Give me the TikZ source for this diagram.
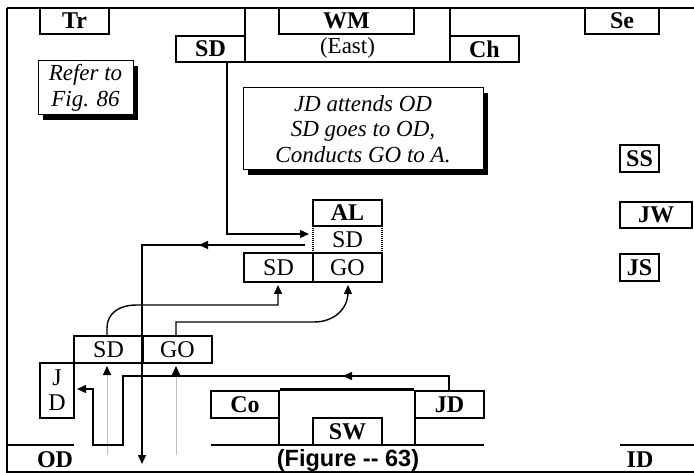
\documentclass[tikz,border=0pt]{standalone}
\usepackage{fontspec}
\setmainfont{Liberation Serif}
\newfontfamily\arialfont{Liberation Sans}
\usetikzlibrary{arrows.meta}
\begin{document}
\begin{tikzpicture}[x=1pt,y=-1pt,
  bx/.style={draw, line width=2.7pt, inner sep=0pt, font=\bfseries\fontsize{24}{24}\selectfont},
  rbx/.style={bx, font=\fontsize{24}{24}\selectfont},
  lbl/.style={inner sep=0pt, font=\bfseries\fontsize{24}{24}\selectfont},
  note/.style={draw, line width=1pt, fill=white, inner sep=0pt, align=center,
    font=\itshape\fontsize{23}{25.5}\selectfont},
  frame/.style={line width=2.7pt},
  conn/.style={line width=1.4pt},
  tip/.style={-{Triangle[length=9pt,width=8pt]}},
  gline/.style={line width=0.8pt, draw=black!25, -{Triangle[length=9pt,width=8pt,color=black]}}
]
\useasboundingbox (0,0) rectangle (694,473);
% frame
\draw[frame] (7,8) -- (694,8);
\draw[frame] (7,8) -- (7,472) -- (694,472);
% top structure
\node[bx, minimum width=69pt, minimum height=26pt] (tr) at (74.5,21) {Tr};
\node[bx, minimum width=135pt, minimum height=26pt] (wm) at (346.5,21) {WM};
\node[bx, minimum width=74pt, minimum height=26pt] (se) at (622,21) {Se};
\node[bx, minimum width=69pt, minimum height=26pt] (sdt) at (210.5,49) {SD};
\node[bx, minimum width=69pt, minimum height=26pt] (ch) at (484.5,49) {Ch};
\draw[frame] (245,8) -- (245,62) -- (450,62) -- (450,8);
\node[inner sep=0pt, font=\fontsize{23}{23}\selectfont] (east) at (347.5,48) {(East)};
% notes with shadows
\fill (43,66) rectangle (138,120);
\node[note, minimum width=95pt, minimum height=54pt] (refer) at (85.5,88) {Refer to\\Fig. 86};
\fill (248,93) rectangle (488,175);
\node[note, minimum width=240pt, minimum height=82pt] (jdatt) at (363,129) {JD attends OD\\SD goes to OD,\\Conducts GO to A.};
% right column
\node[bx, minimum width=39pt, minimum height=27pt] (ss) at (639.5,158.5) {SS};
\node[bx, minimum width=72pt, minimum height=26pt] (jw) at (656,215) {JW};
\node[bx, minimum width=39pt, minimum height=27pt] (js) at (639.5,267.5) {JS};
% altar group
\node[bx, minimum width=69pt, minimum height=26pt] (al) at (347.5,213) {AL};
\node[inner sep=0pt, font=\fontsize{24}{24}\selectfont] (sdm) at (347.5,239.5) {SD};
\draw[line width=1.5pt, dash pattern=on 1pt off 1pt] (313,226) -- (313,253);
\draw[line width=1.5pt, dash pattern=on 1pt off 1pt] (382,226) -- (382,253);
\node[rbx, minimum width=69pt, minimum height=29pt] (sda) at (278.5,267.5) {SD};
\node[rbx, minimum width=69pt, minimum height=29pt] (goa) at (347.5,267.5) {GO};
% lower left group
\node[rbx, minimum width=69pt, minimum height=27pt] (sdl) at (108.5,349.5) {SD};
\node[rbx, minimum width=69pt, minimum height=27pt] (gol) at (177.5,349.5) {GO};
\node[rbx, minimum width=34pt, minimum height=55pt, align=center, font=\fontsize{24}{25}\selectfont] (jdl) at (57,390.5) {J\\D};
% bottom group
\node[bx, minimum width=68pt, minimum height=27pt] (co) at (245,404.5) {Co};
\node[bx, minimum width=69pt, minimum height=27pt] (sw) at (347.5,431.5) {SW};
\node[bx, minimum width=69pt, minimum height=27pt] (jdr) at (449.5,404.5) {JD};
\draw[frame] (co.north east) -- (jdr.north west);
\draw[frame] (279,418) -- (279,445);
\draw[frame] (415,418) -- (415,445);
\draw[frame] (7,445) -- (74,445);
\draw[frame] (211,445) -- (484,445);
\draw[frame] (620,445) -- (694,445);
% bottom labels
\node[lbl] (od) at (55,460) {OD};
\node[inner sep=0pt, font=\arialfont\bfseries\fontsize{23.5}{23.5}\selectfont] (fig) at (348,460) {(Figure -- 63)};
\node[lbl] (id) at (640,460) {ID};
% connectors
\coordinate (a1) at (227,62);
\coordinate (a2) at (227,234);
\coordinate (a3) at (309,234);
\draw[conn, tip] (a1) -- (a2) -- (a3);
\coordinate (b1) at (305,245);
\coordinate (b2) at (199,245);
\coordinate (b3) at (142,245);
\coordinate (b4) at (142,464);
\draw[conn, tip] (b1) -- (b2);
\draw[conn, tip] (205,245) -- (b3) -- (b4);
% curves from lower SD/GO to upper SD/GO
\coordinate (c1) at (107,336);
\coordinate (c2) at (278,305);
\coordinate (c3) at (278,285);
\draw[conn, tip] (c1) -- (107,328) .. controls (107,314) and (118,305) .. (137,305) -- (c2) -- (c3);
\coordinate (d1) at (176,336);
\coordinate (d2) at (348,285);
\draw[conn, tip] (d1) -- (176,322) -- (314,322) .. controls (333,322) and (348,310) .. (348,292) -- (d2);
% gray up arrows
\draw[gline] (107,455) -- (107,366);
\draw[gline] (176,455) -- (176,366);
% JD path
\coordinate (e1) at (449,391);
\coordinate (e2) at (449,376);
\coordinate (e3) at (343,376);
\draw[conn, tip] (e1) -- (e2) -- (e3);
\draw[conn, tip] (350,376) -- (123,376) -- (123,445) -- (93,445) -- (93,389) -- (77,389);
\end{tikzpicture}
\end{document}
